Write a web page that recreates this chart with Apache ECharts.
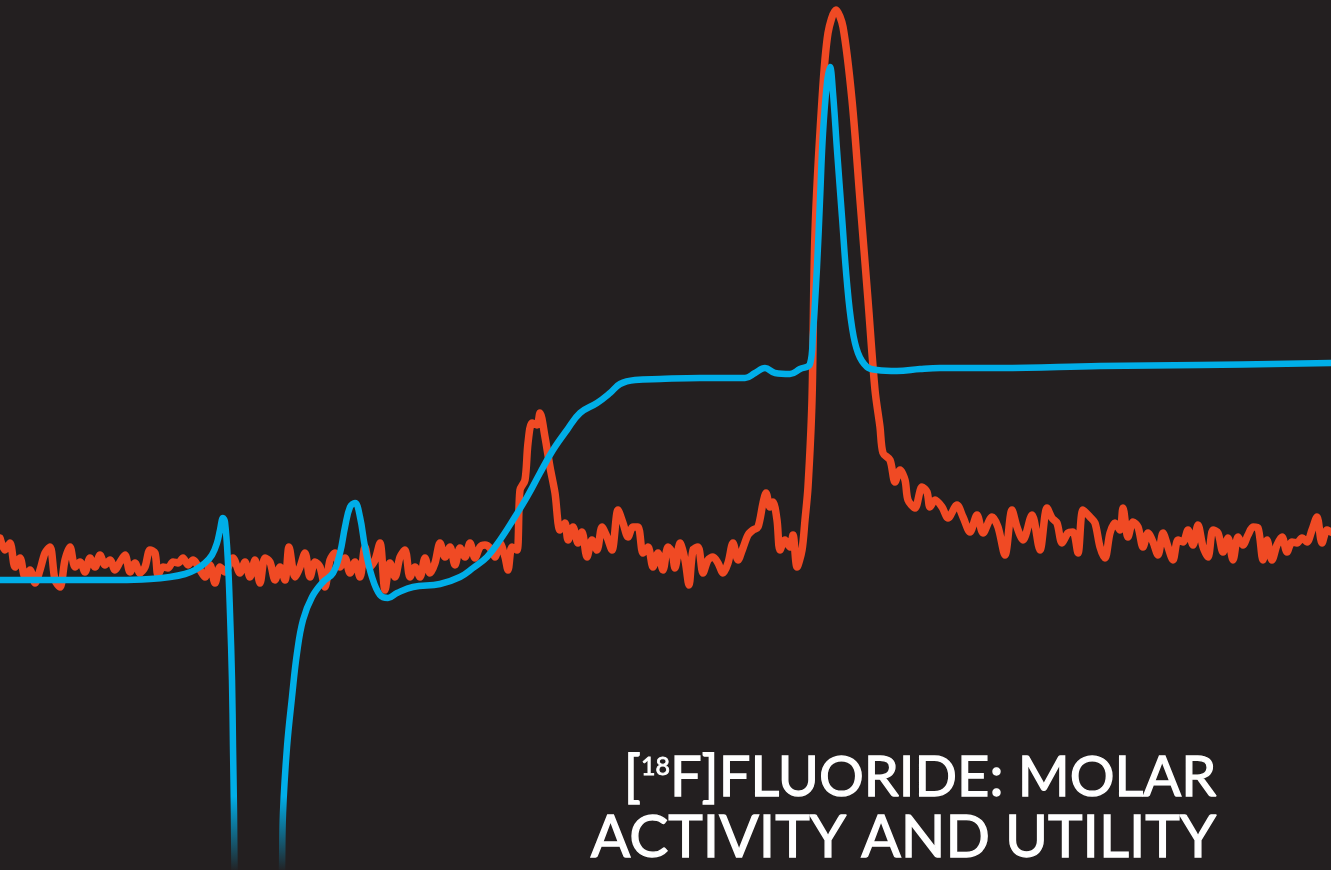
<!DOCTYPE html>
<html>
<head>
<meta charset="utf-8">
<script src="https://cdn.jsdelivr.net/npm/echarts@6/dist/echarts.min.js"></script>
<style>
html,body{margin:0;padding:0;background:#231f20;}
#c{width:1331px;height:870px;}
</style>
</head>
<body>
<div id="c"></div>
<script>
// Chromatogram traces: [retention position, detector response (screen-depth units, larger = lower)]
const radioTrace = [
[0,538],[5,550],[10,543],[15,567],[20,558],[25,577],[30,570],[35,583],[40,570],[45,553],[50,547],[55,580],[60,587],[65,560],[70,547],[75,567],[80,562],[85,572],[90,558],[95,567],[100,555],[105,565],[110,560],[115,570],[120,562],[125,555],[130,572],[135,563],[140,573],[145,567],[150,550],[155,553],[158,575],[163,567],[168,568],[173,562],[178,563],[183,558],[188,565],[193,560],[200,570],[205,577],[210,565],[215,583],[220,567],[225,572],
[233,558],[240,573],[245,562],[250,577],[255,560],[260,583],[265,558],[270,562],[275,580],[280,567],[285,580],[289,547],[295,577],[300,567],[305,553],[310,577],[315,562],[320,567],[325,587],[330,560],[335,553],[340,567],[345,558],[350,573],[355,562],[360,577],[365,547],[370,567],[375,560],[380,543],[385,590],[390,563],[395,577],[400,557],[405,550],[410,577],[415,567],[420,577],[425,558],[430,573],[435,563],[440,543],[445,557],[450,547],[455,565],[460,548],[465,557],[470,543],[475,558],[480,547],[485,545],[490,548],[495,557],[500,543],[505,557],[508,570],[512,547],[517,550],
[520,490],[525,480],[528,443],[532,423],[537,425],[540,413],[545,437],[550,467],[555,493],[560,530],[565,523],[568,540],[573,527],[578,543],[582,532],[587,557],[592,540],[597,550],[602,527],[607,537],[612,550],[618,510],[623,523],[628,537],[633,527],[638,527],[643,553],[648,547],[653,567],[658,553],[663,570],[668,547],
[672,552],[675,568],[680,543],[685,560],[689,585],[693,550],[698,547],[703,573],[708,560],[713,557],[718,563],[723,573],[728,563],[733,543],[738,560],[743,548],[748,535],[753,530],[758,527],[763,503],[766,493],[770,507],[773,502],[777,520],[780,550],[785,540],[790,547],[793,535],[797,567],[802,550],[805,520],[808,487],[812,400],[815,233],[822,100],[828,33],[836,10],[843,27],[852,100],[860,200],[868,300],[875,390],[880,427],[883,453],[890,460],[895,482],[900,470],[905,480],[908,500],[915,508],[922,487],[927,492],[930,507],[935,500],[942,507],[948,518],[957,505],[963,517],[970,532],[977,515],[983,533],[992,517],[998,527],[1005,555],[1012,510],[1017,527],[1023,540],[1032,515],[1040,550],[1047,508],[1052,518],[1057,523],[1062,543],[1068,533],[1073,532],[1078,553],[1083,510],[1090,517],[1095,523],[1100,547],
[1105,558],[1110,533],[1115,523],[1120,530],[1123,508],[1128,537],[1133,522],[1138,527],[1143,547],[1148,533],[1153,542],[1158,555],[1163,533],[1168,547],[1173,560],[1178,540],[1183,542],[1188,530],[1193,545],[1198,525],[1203,547],[1208,557],[1213,530],[1218,533],[1223,552],[1228,538],[1233,560],[1238,537],[1243,545],[1248,535],[1253,527],[1258,528],[1263,560],[1267,540],[1272,560],[1277,545],[1282,537],[1287,552],[1292,542],[1297,543],[1302,538],[1307,542],[1312,530],[1317,517],[1322,543],[1327,530],[1331,532]
];
const uvTrace = [
[0,580],[60,580],[120,580],[150,579],[170,577],[185,574],[195,570],[205,563],[212,555],[217,543],[220,530],[223,518],[225,522],[228,563],[230,613],[232,680],[233,747],[234,813],[234.5,870],[236,960],
[280,960],[282,870],[283,813],[287,747],[292,697],[297,653],[303,620],[312,597],[323,582],[333,573],[340,553],[345,527],[350,507],[355,503],[360,517],[365,547],[372,577],[380,595],[388,598],[397,593],[413,587],[440,584],[460,577],[473,568],[487,557],[500,540],[513,520],[527,497],[540,473],[553,450],[567,430],[580,413],[597,403],[610,393],[620,384],[635,380],[660,379],[700,378],[745,378],[755,373],[765,368],[775,373],[790,374],[800,369],[810,364],[813,333],[817,267],[820,200],[823,133],[827,83],[830,67],[833,93],[837,150],[842,217],[847,283],[852,327],[858,353],[867,367],[877,370],[897,371],[920,369],[940,368],[1000,368],[1100,366],[1200,365],[1331,363]
];
const titleLines = ['[', '18', 'F]FLUORIDE: MOLAR', 'ACTIVITY AND UTILITY'];

const chart = echarts.init(document.getElementById('c'), null, {renderer:'canvas'});
const BG = '#231f20', ORANGE = '#f04a24', BLUE = '#00aee8';
const titleFont = {fontFamily:'Lato', fontWeight:'normal', fill:'#ffffff', stroke:'#ffffff', lineWidth:1.3, align:'right'};
chart.setOption({
  backgroundColor: BG,
  animation: false,
  grid: {left:0, right:0, top:0, bottom:0},
  xAxis: {type:'value', min:0, max:1331, show:false},
  yAxis: {type:'value', min:0, max:870, inverse:true, show:false},
  series: [
    {type:'line', data: radioTrace, symbol:'none', smooth:0.3,
     lineStyle:{color:ORANGE, width:7.5, cap:'round', join:'round'}},
    {type:'line', data: uvTrace, symbol:'none', smooth:0.4,
     lineStyle:{width:6.5, cap:'round', join:'round',
       color:{type:'linear', x:0, y:0, x2:0, y2:870, global:true,
         colorStops:[{offset:0,color:BLUE},{offset:0.915,color:BLUE},{offset:1,color:'rgba(0,174,232,0.03)'}]}}}
  ],
  graphic: [{
    type:'text', right: 114, top: 747, z: 100,
    style:{
      text: '{a|' + titleLines[0] + '}{s|' + titleLines[1] + '}{a|' + titleLines[2] + '}\n{b|' + titleLines[3] + '}',
      align:'right',
      fill:'#ffffff',
      rich:{
        a:Object.assign({fontSize:56, lineHeight:61}, titleFont),
        b:Object.assign({fontSize:58.5, lineHeight:60}, titleFont),
        s:Object.assign({fontSize:25, lineHeight:61, verticalAlign:'top', padding:[7,0,0,0]}, titleFont, {lineWidth:0.8})
      }
    }
  }]
});
</script>
</body>
</html>
